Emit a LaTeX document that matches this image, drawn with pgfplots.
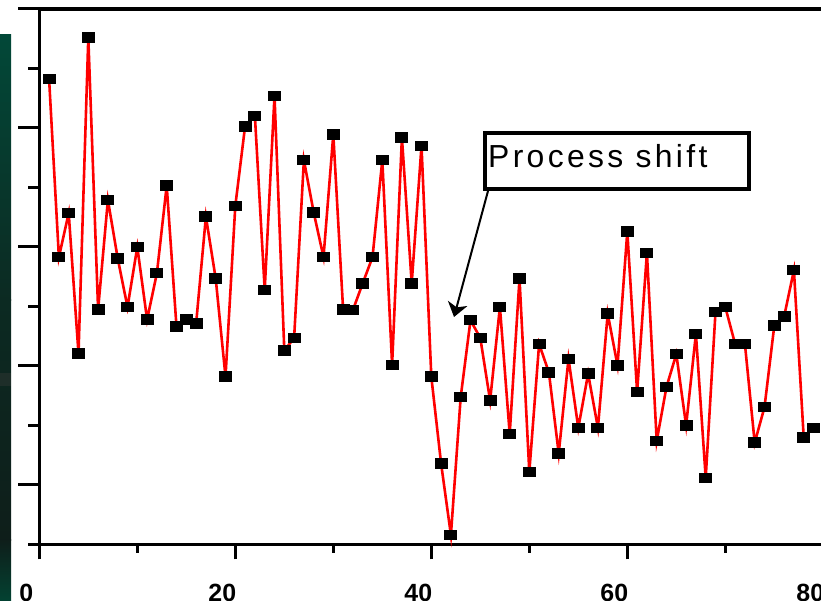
\documentclass[border=0pt]{standalone}
\usepackage{fontspec}
\setmainfont{Liberation Sans}
\newfontfamily\calloutfont[LetterSpace=10.5]{Liberation Sans}
\usepackage{pgfplots}
\usepackage{pgfplotstable}
\pgfplotsset{compat=1.18}
\usetikzlibrary{arrows.meta}

\definecolor{stripteal}{RGB}{2,72,56}
\definecolor{stripmid}{RGB}{12,42,34}
\definecolor{stripdark}{RGB}{14,30,26}
\definecolor{stripbot}{RGB}{3,66,50}
\definecolor{stripband}{RGB}{30,46,41}

% sample number, measured value
\pgfplotstableread{
n  y
1  7.82
2  4.83
3  5.57
4  3.21
5  8.52
6  3.95
7  5.79
8  4.81
9  3.99
10 5.00
11 3.78
12 4.56
13 6.03
14 3.66
15 3.78
16 3.71
17 5.51
18 4.47
19 2.82
20 5.69
21 7.03
22 7.20
23 4.28
24 7.54
25 3.26
26 3.47
27 6.46
28 5.58
29 4.83
30 6.89
31 3.95
32 3.94
33 4.39
34 4.83
35 6.46
36 3.02
37 6.84
38 4.39
39 6.70
40 2.82
41 1.36
42 0.16
43 2.48
44 3.77
45 3.47
46 2.42
47 3.99
48 1.86
49 4.47
50 1.22
51 3.37
52 2.89
53 1.53
54 3.12
55 1.96
56 2.87
57 1.96
58 3.88
59 3.01
60 5.26
61 2.56
62 4.90
63 1.74
64 2.65
65 3.20
66 2.00
67 3.54
68 1.12
69 3.91
70 3.99
71 3.37
72 3.37
73 1.71
74 2.31
75 3.68
76 3.83
77 4.61
78 1.80
79 1.96
}\runs

\pgfplotsset{
  chartbase/.style={
    at={(39.3bp,56.5bp)}, anchor=origin,
    x=9.8bp, y=59.5bp,
    xmin=0, xmax=80, ymin=0, ymax=9,
    tick align=outside,
    tick style={black, line width=3bp},
    axis line style={black, line width=3.2bp},
  },
}

\begin{document}
\begin{tikzpicture}[x=1bp,y=1bp]
\useasboundingbox (0,0) rectangle (821,601);
\clip (0,0) rectangle (821,601);

% dark strip on the left edge
\shade[top color=stripteal, bottom color=stripmid] (0,300.5) rectangle (11,566);
\shade[top color=stripmid, bottom color=stripdark] (0,60.5) rectangle (11,301);
\shade[top color=stripdark, bottom color=stripbot] (0,0) rectangle (11,61);
\fill[stripband] (0,215) rectangle (11,228);

% main axis: frame, x ticks and the data
\begin{axis}[chartbase,
  xtick={0,20,40,60,80}, minor xtick={10,30,50,70},
  xtick pos=left,
  major tick length=15bp, minor tick length=8.5bp,
  ytick=\empty,
  /pgf/number format/assume math mode=true,
  xticklabel style={font=\bfseries\fontsize{25}{25}\selectfont,
    inner sep=0pt, xshift=-13bp, yshift=-24bp},
  clip=false]
\addplot[red, line width=2.6bp, mark=square*, mark size=4.8bp,
  mark options={black, fill=black, xscale=1.25, line width=0pt}]
  table[x=n, y=y] {\runs};
\end{axis}

% second axis only for the y ticks (long and short)
\begin{axis}[chartbase,
  hide x axis, axis y line*=left,
  ytick={1,3,5,7,9}, minor ytick={0,2,4,6,8},
  ytick pos=left, yticklabels={,,},
  yticklabel style={opacity=0},
  major tick length=21bp, minor tick length=11bp]
\end{axis}

% callout
\draw[line width=3.4bp, fill=white] (485,412) rectangle (749,468);
\node[anchor=base west, inner sep=0pt,
  font=\calloutfont\fontsize{32}{32}\selectfont] at (488,433) {Process shift};
\draw[line width=2bp, -{Stealth[length=14bp, width=20bp, inset=4bp]}]
  (488,410) -- (454,284);
\end{tikzpicture}
\end{document}
